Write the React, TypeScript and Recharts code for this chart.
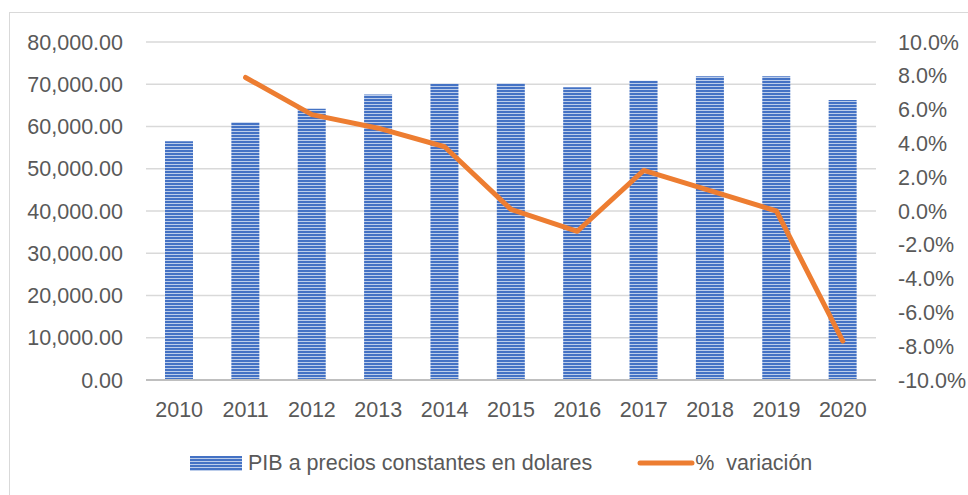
import {
  ComposedChart,
  Bar,
  Line,
  XAxis,
  YAxis,
  CartesianGrid,
  Legend,
} from "recharts";

const years = ["2010", "2011", "2012", "2013", "2014", "2015", "2016", "2017", "2018", "2019", "2020"];
const pib = [56500, 61000, 64200, 67600, 70100, 70200, 69300, 70800, 71900, 71900, 66300];
const variacion = [null, 0.079, 0.057, 0.049, 0.038, 0.001, -0.012, 0.024, 0.012, 0.0, -0.077];

const leftTicks = [0, 10000, 20000, 30000, 40000, 50000, 60000, 70000, 80000];
const rightTicks = [-0.1, -0.08, -0.06, -0.04, -0.02, 0, 0.02, 0.04, 0.06, 0.08, 0.1];

const data = years.map((year, i) => ({
  year,
  pib: pib[i],
  variacion: variacion[i],
}));

const FONT = "'Liberation Sans', Arial, sans-serif";
const TEXT = "#595959";
const tickStyle = { fill: TEXT, fontSize: 21.5, fontFamily: FONT };

function LegendBox() {
  return (
    <div
      style={{
        display: "flex",
        alignItems: "center",
        height: 40,
        paddingLeft: 190,
        fontFamily: FONT,
        fontSize: 21.5,
        color: TEXT,
        whiteSpace: "pre",
      }}
    >
      <svg width={52} height={15} style={{ display: "block" }}>
        <rect width={52} height={15} fill="url(#stripes)" />
      </svg>
      <span style={{ marginLeft: 6 }}>PIB a precios constantes en dolares</span>
      <svg width={58} height={8} style={{ display: "block", marginLeft: 45 }}>
        <line x1={3} y1={4} x2={55} y2={4} stroke="#ED7D31" strokeWidth={5} strokeLinecap="round" />
      </svg>
      <span>%  variación</span>
    </div>
  );
}

export default function App() {
  return (
    <div style={{ position: "absolute", left: 0, top: 0, width: 968, height: 495, background: "#fff", overflow: "hidden" }}>
      <div
        style={{
          position: "absolute",
          left: 9,
          top: 12,
          width: 980,
          height: 500,
          border: "1.5px solid #d9d9d9",
        }}
      />
      <div style={{ position: "absolute", left: 0, top: 0 }}>
        <ComposedChart
          width={968}
          height={495}
          data={data}
          margin={{ top: 42, right: 0, left: 0, bottom: 12 }}
        >
          <defs>
            <pattern id="stripes" patternUnits="userSpaceOnUse" width={4} height={3}>
              <rect x={0} y={0} width={4} height={2} fill="#4472C4" />
              <rect x={0} y={2} width={4} height={1} fill="#bccdea" />
            </pattern>
          </defs>
          <CartesianGrid yAxisId="left" vertical={false} stroke="#d9d9d9" strokeWidth={1.5} />
          <XAxis
            dataKey="year"
            height={63}
            tickLine={false}
            tickSize={0}
            tickMargin={22}
            axisLine={{ stroke: "#bfbfbf", strokeWidth: 2 }}
            tick={tickStyle}
          />
          <YAxis
            yAxisId="left"
            width={146}
            domain={[0, 80000]}
            ticks={leftTicks}
            interval={0}
            tickLine={false}
            axisLine={false}
            tickSize={0}
            tickMargin={23}
            tick={tickStyle}
            tickFormatter={(v: number) =>
              v.toLocaleString("en-US", { minimumFractionDigits: 2, maximumFractionDigits: 2 })
            }
          />
          <YAxis
            yAxisId="right"
            orientation="right"
            width={92}
            domain={[-0.1, 0.1]}
            ticks={rightTicks}
            interval={0}
            tickLine={false}
            axisLine={false}
            tickSize={0}
            tickMargin={22}
            tick={tickStyle}
            tickFormatter={(v: number) => (v * 100).toFixed(1) + "%"}
          />
          <Legend verticalAlign="bottom" height={40} wrapperStyle={{ left: 0, width: 968 }} content={() => <LegendBox />} />
          <Bar
            yAxisId="left"
            dataKey="pib"
            name="PIB a precios constantes en dolares"
            barSize={28}
            fill="url(#stripes)"
            isAnimationActive={false}
          />
          <Line
            yAxisId="right"
            dataKey="variacion"
            name="%  variación"
            type="linear"
            stroke="#ED7D31"
            strokeWidth={5}
            strokeLinejoin="round"
            strokeLinecap="round"
            dot={false}
            activeDot={false}
            isAnimationActive={false}
          />
        </ComposedChart>
      </div>
    </div>
  );
}
